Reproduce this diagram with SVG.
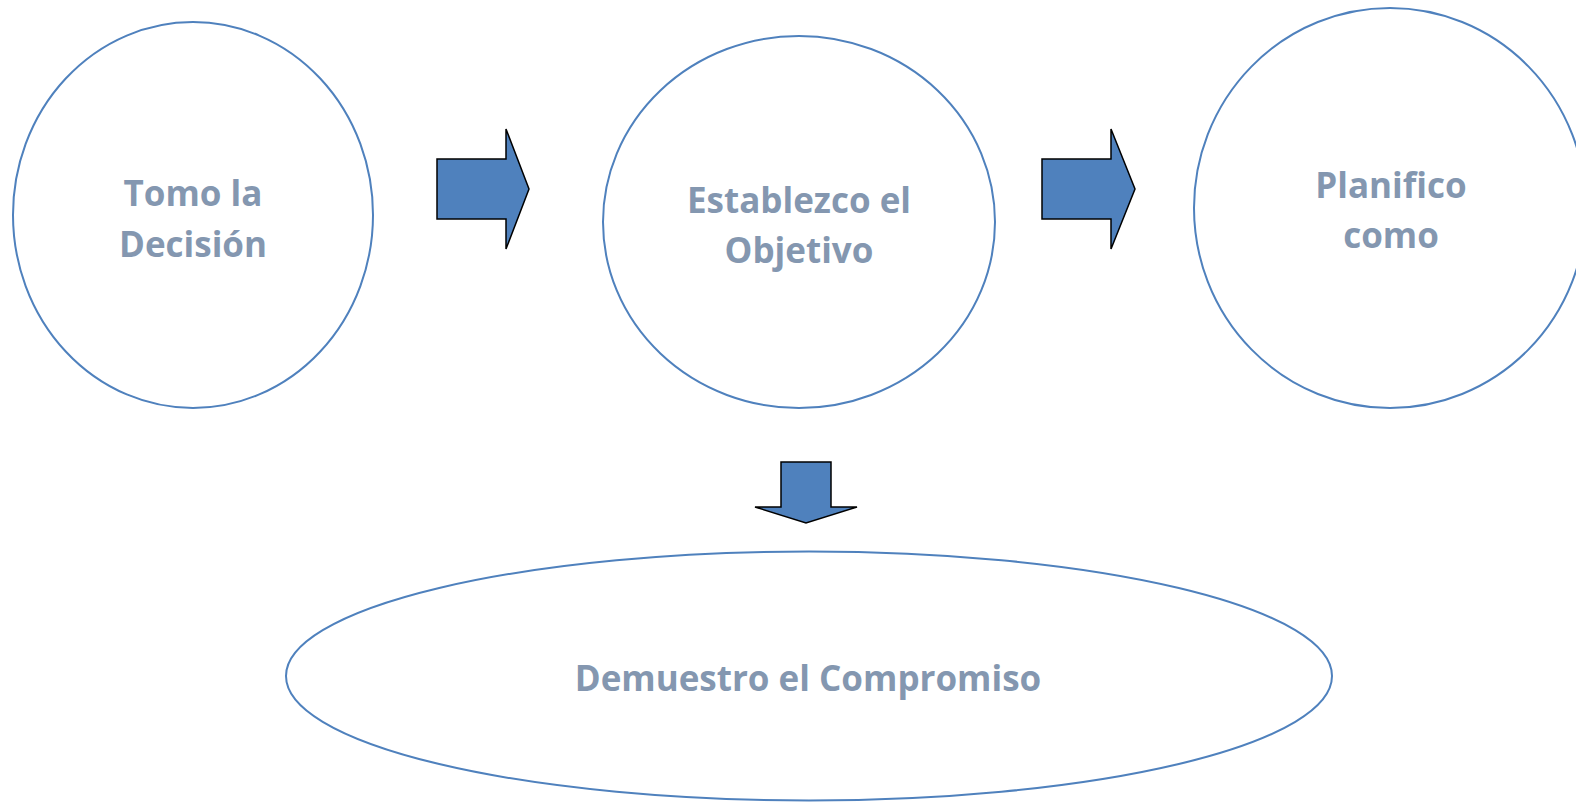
<svg xmlns="http://www.w3.org/2000/svg" width="1576" height="802" viewBox="0 0 1576 802">
<style>
.n{fill:#fff;stroke:#4F81BD;stroke-width:2}
.a{fill:#4F81BD;stroke:#000;stroke-width:1.5;stroke-linejoin:miter}
.t{font-family:"Open Sans","Noto Sans",sans-serif;font-weight:bold;font-size:35px;fill:#8497B0;text-anchor:middle}
</style>
<rect width="1576" height="802" fill="#fff"/>
<g id="n1"><ellipse class="n" cx="193" cy="215" rx="180" ry="193"/><text class="t" x="193" y="206">Tomo la</text><text class="t" x="193" y="257">Decisión</text></g>
<g id="n2"><ellipse class="n" cx="799" cy="222" rx="196" ry="186"/><text class="t" x="799" y="213">Establezco el</text><text class="t" x="799" y="263">Objetivo</text></g>
<g id="n3"><ellipse class="n" cx="1390" cy="208" rx="196" ry="200"/><text class="t" x="1391" y="198">Planifico</text><text class="t" x="1391" y="248">como</text></g>
<g id="n4"><ellipse class="n" cx="809" cy="676" rx="523" ry="124.5"/><text class="t" x="808" y="691">Demuestro el Compromiso</text></g>
<g id="connectors">
<polygon class="a" points="437,159 506,159 506,129 529,189 506,249 506,219 437,219"/>
<polygon class="a" points="1042,159 1111,159 1111,129 1135,189 1111,249 1111,219 1042,219"/>
<polygon class="a" points="781,462 831,462 831,507 857,507 806,523 755,507 781,507"/>
</g>
</svg>
